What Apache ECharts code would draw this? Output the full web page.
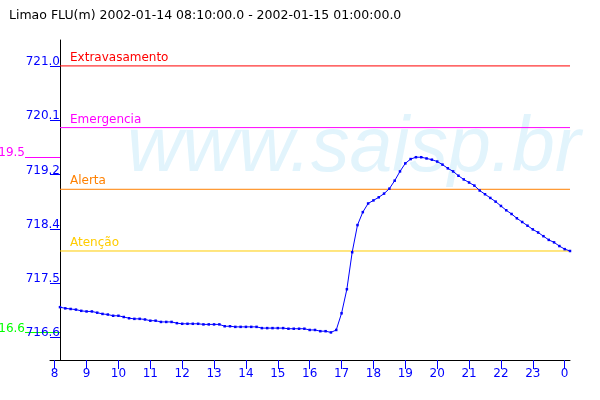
<!DOCTYPE html>
<html>
<head>
<meta charset="utf-8">
<script src="https://cdn.jsdelivr.net/npm/echarts@6/dist/echarts.min.js"></script>
<style>html,body{margin:0;padding:0;background:#fff;}#c{width:600px;height:400px;}</style>
</head>
<body>
<div id="c"></div>
<script>
// ---- data ----
const chartTitle = 'Limao FLU(m) 2002-01-14 08:10:00.0 - 2002-01-15 01:00:00.0';
const startHour = 8 + 10 / 60;      // 2002-01-14 08:10
const stepHours = 10 / 60;          // every 10 minutes
const levels = [
  717.09, 717.07, 717.06, 717.05, 717.03, 717.02, 717.02, 717.00, 716.98, 716.97,
  716.95, 716.95, 716.93, 716.91, 716.90, 716.90, 716.89, 716.87, 716.87, 716.85,
  716.85, 716.85, 716.83, 716.82, 716.82, 716.82, 716.82, 716.81, 716.81, 716.81,
  716.81, 716.78, 716.78, 716.77, 716.77, 716.77, 716.77, 716.77, 716.75, 716.75,
  716.75, 716.75, 716.75, 716.74, 716.74, 716.74, 716.74, 716.72, 716.72, 716.70,
  716.70, 716.68, 716.72, 716.99, 717.38, 717.98, 718.42, 718.63, 718.77, 718.82,
  718.87, 718.93, 719.01, 719.14, 719.29, 719.42, 719.49, 719.52, 719.52, 719.50,
  719.48, 719.45, 719.40, 719.34, 719.29, 719.22, 719.16, 719.11, 719.06, 718.98,
  718.92, 718.86, 718.80, 718.73, 718.66, 718.60, 718.53, 718.47, 718.41, 718.35,
  718.30, 718.24, 718.18, 718.14, 718.08, 718.03, 718.00
];
const xTickValues = [8, 9, 10, 11, 12, 13, 14, 15, 16, 17, 18, 19, 20, 21, 22, 23, 24];
const xTickLabels = ['8', '9', '10', '11', '12', '13', '14', '15', '16', '17', '18', '19', '20', '21', '22', '23', '0'];
const yTickValues = [716.6, 717.48, 718.36, 719.24, 720.12, 721.0];
const thresholdNames = ['Extravasamento', 'Emergencia', 'Alerta', 'Atenção'];
const thresholdValues = [721.0, 720.0, 719.0, 718.0];
const thresholdColors = ['#ff0000', '#ff00ff', '#ff8000', '#ffcc00'];
const watermarkText = 'www.saisp.br';

// ---- build ----
const FONT = 'DejaVu Sans';
const seriesData = levels.map((v, i) => [startHour + i * stepHours, v]);
const xEnd = startHour + (levels.length - 1) * stepHours;
const maxV = Math.max(...levels);
const minV = Math.min(...levels);
const trunc1 = v => (Math.floor(v * 10 + 1e-9) / 10).toFixed(1);
const yMin = 716.233, yMax = 721.42;
const xMin = 7.853;

function extraAxis(val, color) {
  return {
    type: 'value', min: yMin, max: yMax, position: 'left', offset: -10,
    axisLine: { show: false },
    axisTick: { show: true, customValues: [val], length: 35, lineStyle: { color: color, width: 1 } },
    axisLabel: { show: true, customValues: [val], formatter: v => trunc1(v), color: color, margin: 35,
      verticalAlign: 'bottom', lineHeight: 8, fontSize: 12, fontFamily: FONT },
    splitLine: { show: false }
  };
}

const thresholdSeries = thresholdNames.map((n, k) => ({
  type: 'line',
  name: n,
  yAxisIndex: 0,
  z: 3,
  silent: true,
  color: thresholdColors[k],
  symbol: 'circle',
  symbolSize: 0,
  showSymbol: true,
  showAllSymbol: true,
  lineStyle: { color: thresholdColors[k], width: 1, type: 'solid', opacity: 1 },
  itemStyle: { color: thresholdColors[k] },
  emphasis: { disabled: true },
  data: [
    {
      value: [startHour, thresholdValues[k]],
      label: { show: true, formatter: n, position: [10, -2], align: 'left', verticalAlign: 'bottom',
        color: thresholdColors[k], fontSize: 12, fontFamily: FONT }
    },
    { value: [xEnd, thresholdValues[k]] }
  ]
}));

const chart = echarts.init(document.getElementById('c'), null, { renderer: 'canvas' });
chart.setOption({
  animation: false,
  backgroundColor: '#ffffff',
  title: {
    text: chartTitle, left: 4, top: 4,
    textStyle: { fontSize: 12.5, fontWeight: 'normal', color: '#000', fontFamily: FONT }
  },
  graphic: [{
    type: 'text', left: 127, top: 111, z: -10,
    style: { text: watermarkText, font: 'italic 77px "Liberation Sans"', fill: '#e2f4fc' }
  }],
  grid: { left: 50, right: 30, top: 40, bottom: 40, containLabel: false, outerBoundsMode: 'none' },
  xAxis: {
    type: 'value', min: xMin, max: xEnd,
    axisLine: { show: true, onZero: false, lineStyle: { color: '#000', width: 1 } },
    axisTick: { show: true, customValues: xTickValues, length: 9, lineStyle: { color: '#0000ff', width: 1 } },
    axisLabel: {
      customValues: xTickValues,
      formatter: v => xTickLabels[xTickValues.indexOf(Math.round(v))],
      color: '#0000ff', fontSize: 12, fontFamily: FONT, margin: 8
    },
    splitLine: { show: false }
  },
  yAxis: [
    {
      type: 'value', min: yMin, max: yMax, position: 'left', offset: -10,
      axisLine: { show: true, onZero: false, lineStyle: { color: '#000', width: 1 } },
      axisTick: { show: true, customValues: yTickValues, length: 10, lineStyle: { color: '#0000ff', width: 1 } },
      axisLabel: {
        customValues: yTickValues, formatter: v => v.toFixed(1), color: '#0000ff',
        margin: 0, verticalAlign: 'bottom', lineHeight: 8, fontSize: 12, fontFamily: FONT
      },
      splitLine: { show: false }
    },
    extraAxis(maxV, '#ff00ff'),
    extraAxis(minV, '#00ff00')
  ],
  series: thresholdSeries.concat([{
    type: 'line',
    name: 'Limao',
    data: seriesData,
    yAxisIndex: 0,
    showAllSymbol: true,
    symbol: 'rect',
    symbolSize: 2.5,
    lineStyle: { color: '#0000ff', width: 1 },
    itemStyle: { color: '#0000ff' },
    z: 5
  }])
});
</script>
</body>
</html>
